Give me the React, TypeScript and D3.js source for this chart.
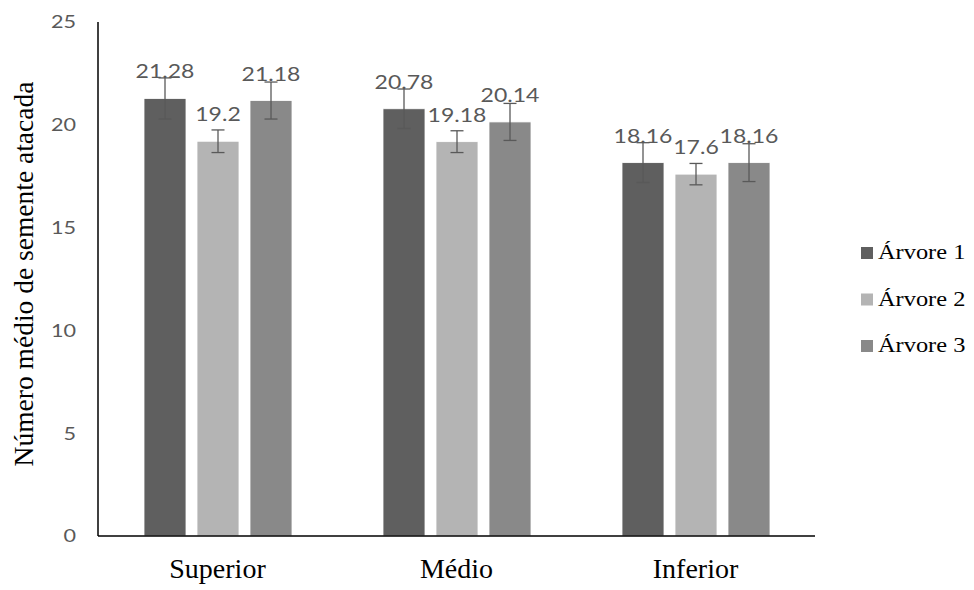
import React from "react";
import * as d3 from "d3";

const categories = ["Superior", "Médio", "Inferior"];
const seriesNames = ["Árvore 1", "Árvore 2", "Árvore 3"];
const arvore1 = [21.28, 20.78, 18.16];
const arvore2 = [19.2, 19.18, 17.6];
const arvore3 = [21.18, 20.14, 18.16];
const err1 = [1.0, 0.96, 0.97];
const err2 = [0.55, 0.53, 0.52];
const err3 = [0.9, 0.9, 0.92];
const yTicks = [0, 5, 10, 15, 20, 25];

const seriesValues = [arvore1, arvore2, arvore3];
const seriesErrors = [err1, err2, err3];
const colors = ["#5f5f5f", "#b4b4b4", "#898989"];

const W = 974;
const H = 590;
const left = 98;
const right = 815;
const top = 22;
const bottom = 536;

export default function App() {
  const x0 = d3.scaleBand<string>().domain(categories).range([left, right]).padding(0);
  const x1 = d3
    .scaleBand<string>()
    .domain(seriesNames)
    .range([40.5, 199.5])
    .paddingInner(11 / 53)
    .paddingOuter(11 / 106);
  const y = d3.scaleLinear().domain([0, 25]).range([bottom, top]);

  const sans = "Lato, 'Liberation Sans', sans-serif";
  const serif = "'Liberation Serif', 'Times New Roman', serif";

  return (
    <svg
      width={W}
      height={H}
      style={{ position: "absolute", left: 0, top: 0, background: "#fff" }}
    >
      {/* y tick labels */}
      {yTicks.map((t) => (
        <text
          key={t}
          transform={`translate(76,${y(t)}) scale(1.2,1)`}
          textAnchor="end"
          dy="0.36em"
          fontFamily={sans}
          fontSize={18}
          fill="#595959"
        >
          {t}
        </text>
      ))}

      {/* bars */}
      {categories.map((c, ci) => (
        <g key={c} transform={`translate(${x0(c)},0)`}>
          {seriesNames.map((s, si) => {
            const v = seriesValues[si][ci];
            const e = seriesErrors[si][ci];
            const bx = x1(s)!;
            const bw = x1.bandwidth();
            const cx = bx + bw / 2;
            return (
              <g key={s}>
                <rect
                  x={bx}
                  y={y(v)}
                  width={bw}
                  height={y(0) - y(v)}
                  fill={colors[si]}
                  stroke="#ffffff"
                  strokeWidth={0.8}
                />
                <line x1={cx} x2={cx} y1={y(v + e)} y2={y(v - e)} stroke="#595959" strokeWidth={1.3} />
                <line x1={cx - 6.5} x2={cx + 6.5} y1={y(v + e)} y2={y(v + e)} stroke="#595959" strokeWidth={1.3} />
                <line x1={cx - 6.5} x2={cx + 6.5} y1={y(v - e)} y2={y(v - e)} stroke="#595959" strokeWidth={1.3} />
                <text
                  transform={`translate(${cx},${y(v) - 20}) scale(1.18,1)`}
                  textAnchor="middle"
                  fontFamily={sans}
                  fontSize={19.5}
                  fill="#595959"
                >
                  {String(v)}
                </text>
              </g>
            );
          })}
        </g>
      ))}

      {/* axes */}
      <line x1={left} x2={left} y1={top} y2={bottom} stroke="#000" strokeWidth={1.5} />
      <line x1={left} x2={right} y1={bottom} y2={bottom} stroke="#000" strokeWidth={1.5} />

      {/* category labels */}
      {categories.map((c) => (
        <text
          key={c}
          x={x0(c)! + x0.bandwidth() / 2}
          y={578}
          textAnchor="middle"
          fontFamily={serif}
          fontSize={28}
          fill="#000"
        >
          {c}
        </text>
      ))}

      {/* y axis title */}
      <text
        transform={`translate(33,${(top + bottom) / 2 - 5}) rotate(-90)`}
        textAnchor="middle"
        fontFamily={serif}
        fontSize={27.5}
        fill="#000"
      >
        Número médio de semente atacada
      </text>

      {/* legend */}
      {seriesNames.map((s, i) => (
        <g key={s} transform={`translate(861,${247 + i * 46.5})`}>
          <rect x={0} y={0} width={12} height={12} fill={colors[i]} />
          <text
            transform={`translate(17,12) scale(1.22,1)`}
            fontFamily={serif}
            fontSize={20}
            fill="#000"
          >
            {s}
          </text>
        </g>
      ))}
    </svg>
  );
}
